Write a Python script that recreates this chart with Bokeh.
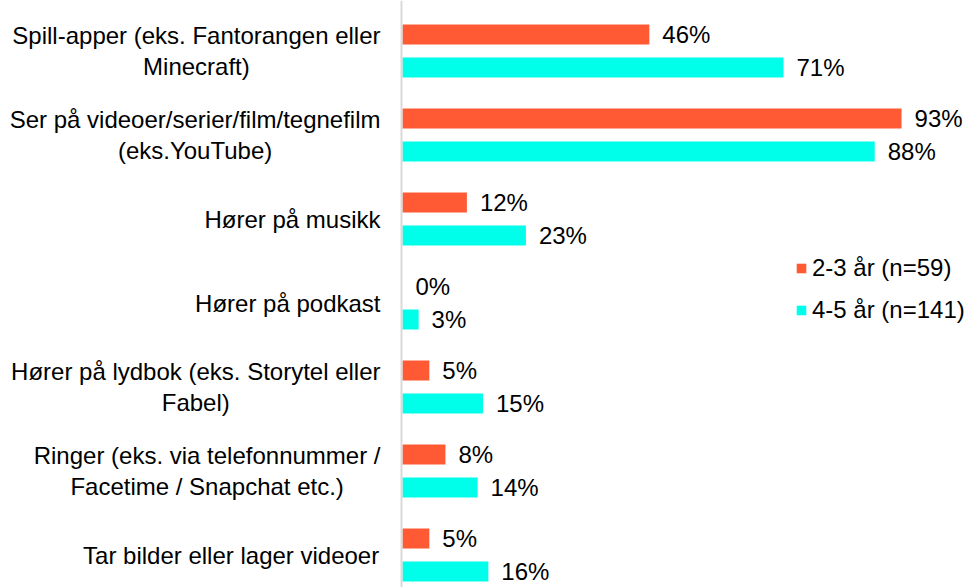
from bokeh.plotting import figure
from bokeh.models import ColumnDataSource, Range1d, Span, Legend, LegendItem
from bokeh.core.properties import value
from bokeh.embed import file_html
from bokeh.resources import INLINE

# ---- data ----
categories = [
    "Spill-apper (eks. Fantorangen eller\nMinecraft)",
    "Ser på videoer/serier/film/tegnefilm\n(eks.YouTube)",
    "Hører på musikk",
    "Hører på podkast",
    "Hører på lydbok (eks. Storytel eller\nFabel)",
    "Ringer (eks. via telefonnummer /\nFacetime / Snapchat etc.)",
    "Tar bilder eller lager videoer",
]
series_names = ["2-3 år (n=59)", "4-5 år (n=141)"]
values_2_3 = [46, 93, 12, 0, 5, 8, 5]
values_4_5 = [71, 88, 23, 3, 15, 14, 16]

# ---- style ----
ORANGE = "#FF5A33"
CYAN = "#00FFEA"
FONT = "Liberation Sans"
FS = 24
W, H = 965, 587
PX_PER_PCT = 5.366
ZERO_PX = 402          # x of the 0% line inside the figure
BAND_PX = 84           # height of one category band
TOP_CENTER_PX = 50.5   # first band centre from top
BAR_PX = 20
DODGE_PX = 16.5

# Arial / Liberation Sans advance widths (per 1000 em) to centre multi-line labels
AW = {" ": 278, "(": 333, ")": 333, "-": 333, ".": 278, "/": 278,
      "a": 556, "b": 556, "c": 500, "d": 556, "e": 556, "f": 278, "g": 556, "h": 556,
      "i": 222, "j": 222, "k": 500, "l": 222, "m": 833, "n": 556, "o": 556, "p": 556,
      "q": 556, "r": 333, "s": 500, "t": 278, "u": 556, "v": 500, "w": 722, "x": 500,
      "y": 500, "z": 500, "å": 556, "ø": 611, "æ": 889,
      "A": 667, "B": 667, "C": 722, "D": 722, "E": 667, "F": 611, "G": 778, "H": 722,
      "I": 278, "M": 833, "R": 722, "S": 667, "T": 611, "Y": 667}


def line_w(s):
    return sum(AW.get(c, 556) for c in s) / 1000 * FS


n = len(categories)
pos = [n - 1 - i for i in range(n)]
dodge = DODGE_PX / BAND_PX
bar_h = BAR_PX / BAND_PX
y_top = (n - 1) + TOP_CENTER_PX / BAND_PX
y_bot = y_top - H / BAND_PX

label_offsets = [-(22 + max(line_w(l) for l in c.split("\n")) / 2) for c in categories]

src = ColumnDataSource(dict(
    cat=categories,
    y1=[p_ + dodge for p_ in pos],
    y2=[p_ - dodge for p_ in pos],
    ymid=pos,
    v1=values_2_3,
    v2=values_4_5,
    t1=[f"{v}%" for v in values_2_3],
    t2=[f"{v}%" for v in values_4_5],
    zero=[0] * n,
    xoff=label_offsets,
))

x0 = -ZERO_PX / PX_PER_PCT
x1 = (W - ZERO_PX) / PX_PER_PCT

p = figure(width=W, height=H, output_backend="svg", toolbar_location=None,
           x_range=Range1d(x0, x1), y_range=Range1d(y_bot, y_top),
           x_axis_location=None, y_axis_location=None,
           min_border=0, min_border_left=0, min_border_right=0,
           min_border_top=0, min_border_bottom=0)
p.outline_line_color = None
p.xgrid.visible = False
p.ygrid.visible = False
p.background_fill_color = "white"
p.border_fill_color = "white"

r1 = p.hbar(y="y1", left=0, right="v1", height=bar_h, source=src,
            fill_color=ORANGE, line_color=None)
r2 = p.hbar(y="y2", left=0, right="v2", height=bar_h, source=src,
            fill_color=CYAN, line_color=None)

p.add_layout(Span(location=-1 / PX_PER_PCT, dimension="height",
                  line_color="#D9D9D9", line_width=2))

common = dict(text_font=value(FONT), text_font_size=f"{FS}px", text_color="black",
              text_baseline="middle")
p.text(x="v1", y="y1", text="t1", x_offset=13, text_align="left", source=src, **common)
p.text(x="v2", y="y2", text="t2", x_offset=13, text_align="left", source=src, **common)
p.text(x="zero", y="ymid", text="cat", x_offset="xoff", text_align="center",
       text_line_height=1.15, source=src, **common)

legend = Legend(items=[LegendItem(label=series_names[0], renderers=[r1]),
                       LegendItem(label=series_names[1], renderers=[r2])],
                location=(795, 263), orientation="vertical",
                glyph_width=12, glyph_height=12, label_standoff=5,
                label_height=28, spacing=14, padding=0, margin=0,
                border_line_color=None, background_fill_alpha=0,
                label_text_font=FONT, label_text_font_size=f"{FS}px",
                label_text_color="black")
p.add_layout(legend, "center")

open("out.html", "w").write(file_html(p, INLINE))
